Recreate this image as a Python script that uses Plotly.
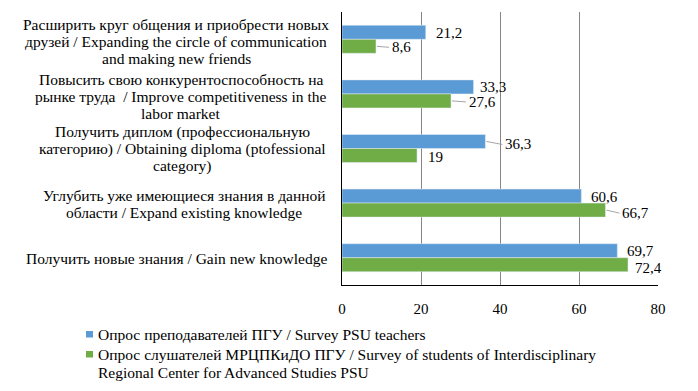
import plotly.graph_objects as go

# ---- data ----
categories = [
    "Расширить круг общения и приобрести новых<br>друзей / Expanding the circle of communication<br>and making new friends",
    "Повысить свою конкурентоспособность на<br>рынке труда  / Improve competitiveness in the<br>labor market",
    "Получить диплом (профессиональную<br>категорию) / Obtaining diploma (ptofessional<br>category)",
    "Углубить уже имеющиеся знания в данной<br>области / Expand existing knowledge",
    "Получить новые знания / Gain new knowledge",
]
teachers = [21.2, 33.3, 36.3, 60.6, 69.7]
students = [8.6, 27.6, 19, 66.7, 72.4]
series_names = [
    "Опрос преподавателей ПГУ / Survey PSU teachers",
    "Опрос слушателей МРЦПКиДО ПГУ / Survey of students of Interdisciplinary<br>Regional Center for Advanced Studies PSU",
]
x_ticks = [0, 20, 40, 60, 80]

# ---- style ----
BLUE = "#5b9bd5"
GREEN = "#70ad47"
FONT = "'Liberation Serif', 'Times New Roman', Times, 'DejaVu Serif', serif"
TXT = 15.5
NUM = 15
L, R, T, B = 342, 40, 12, 106
W, H = 698, 391
PW, PH = W - L - R, H - T - B

# label offsets (pixels): gap from bar end, vertical shift (down positive), leader line
t_gap = [9, 5, 19, 9, 9]
t_dy = [1, 0, 3, 1, 0]
t_lead = [False, False, True, False, False]
s_gap = [15, 17, 10, 16, 6]
s_dy = [1, 1, 1, 3, 3]
s_lead = [True, True, False, True, False]

# category label block centers (px) and vertical nudge (px, down)
cat_cx = [176, 181, 182, 184, 176]
cat_dy = [2.5, 2.5, 0.5, 1, 1]
LINE = 17


def px_x(p):
    return (p - L) / PW


def px_y(p):
    return (T + PH - p) / PH


fig = go.Figure()
fig.add_trace(go.Bar(y=categories, x=teachers, orientation="h", marker_color=BLUE,
                     name=series_names[0], showlegend=False))
fig.add_trace(go.Bar(y=categories, x=students, orientation="h", marker_color=GREEN,
                     name=series_names[1], showlegend=False))


def fmt(v):
    return ("%g" % v).replace(".", ",")


bar_off = 0.1285
annotations = []
shapes = []
for vals, gaps, dys, leads, off in [(teachers, t_gap, t_dy, t_lead, -bar_off),
                                    (students, s_gap, s_dy, s_lead, bar_off)]:
    for i, v in enumerate(vals):
        annotations.append(dict(x=v, y=i + off, xref="x", yref="y", text=fmt(v),
                                showarrow=False, xanchor="left", yanchor="middle",
                                xshift=gaps[i] - 1, yshift=-dys[i],
                                font=dict(family=FONT, size=NUM, color="black")))
        if leads[i]:
            shapes.append(dict(type="line", xref="x", yref="y",
                               xsizemode="pixel", xanchor=v, x0=1, x1=gaps[i] - 2,
                               ysizemode="pixel", yanchor=i + off, y0=0, y1=-dys[i],
                               line=dict(color="#a6a6a6", width=1)))

# category labels (one annotation per line for tight line spacing)
for i, c in enumerate(categories):
    lines = c.split("<br>")
    n = len(lines)
    for k, ln in enumerate(lines):
        annotations.append(dict(x=px_x(cat_cx[i]), y=i, xref="paper", yref="y", text=ln,
                                showarrow=False, xanchor="center", yanchor="middle",
                                yshift=-((k - (n - 1) / 2) * LINE + cat_dy[i]),
                                font=dict(family=FONT, size=TXT, color="black")))

# legend (manual)
for (col, ytop) in [(BLUE, 331), (GREEN, 351)]:
    shapes.append(dict(type="rect", xref="paper", yref="paper",
                       x0=px_x(86), x1=px_x(93), y0=px_y(ytop), y1=px_y(ytop + 6.5),
                       fillcolor=col, line=dict(width=0)))
leg_lines = [series_names[0]] + series_names[1].split("<br>")
for ln, yc in zip(leg_lines, [334, 354, 372]):
    annotations.append(dict(x=px_x(96), y=px_y(yc), xref="paper", yref="paper",
                            text=ln, showarrow=False, xanchor="left",
                            yanchor="middle", align="left",
                            font=dict(family=FONT, size=TXT, color="black")))

fig.update_layout(
    width=W, height=H,
    margin=dict(l=L, r=R, t=T, b=B, autoexpand=False),
    paper_bgcolor="white", plot_bgcolor="white",
    barmode="group", bargap=0.487, bargroupgap=0,
    showlegend=False,
    annotations=annotations,
    shapes=shapes,
    font=dict(family=FONT, size=TXT, color="black"),
)
fig.update_xaxes(range=[0, 80], tickvals=x_ticks, showgrid=True, gridcolor="#868686",
                 gridwidth=1, zeroline=False, showline=True, linecolor="black",
                 linewidth=1, ticks="", ticklabelstandoff=10,
                 tickfont=dict(family=FONT, size=NUM, color="black"))
fig.update_yaxes(type="category", range=[4.5, -0.5], showticklabels=False,
                 showgrid=False, zeroline=False, showline=True, linecolor="black",
                 linewidth=1, ticks="")

fig.write_html("out.html", config={"displayModeBar": False},
               post_script="document.body.style.margin='0px';")
